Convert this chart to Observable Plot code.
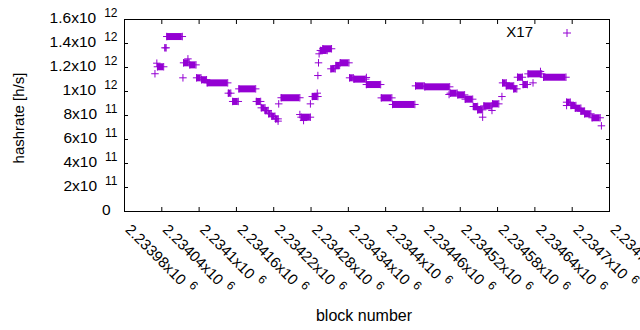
<!DOCTYPE html>
<html><head><meta charset="utf-8">
<script src="https://cdn.jsdelivr.net/npm/d3@7"></script>
<script src="https://cdn.jsdelivr.net/npm/@observablehq/plot@0.6"></script>
<style>
html,body{margin:0;padding:0;background:#fff;}
svg{font-family:"Liberation Sans",Arial,sans-serif;}
</style></head><body><div id="chart"></div>
<script>
const seriesName = "X17";
const xLabel = "block number";
const yLabel = "hashrate [h/s]";

// runs of consecutive blocks with the same hashrate
const runStart = [2234033,2234045,2234048,2234075,2234085,2234096,2234104,2234113,2234147,2234154,2234164,2234192,2234200,2234206,2234212,2234217,2234223,2234232,2234264,2234282,2234295,2234299,2234312,2234320,2234327,2234342,2234349,2234369,2234393,2234411,2234448,2234463,2234504,2234516,2234528,2234541,2234548,2234558,2234572,2234588,2234594,2234606,2234612,2234621,2234629,2234654,2234691,2234698,2234705,2234714,2234720,2234732];
const runEnd   = [2234043,2234047,2234073,2234084,2234095,2234103,2234112,2234146,2234151,2234163,2234191,2234199,2234206,2234211,2234216,2234222,2234227,2234262,2234279,2234291,2234306,2234313,2234319,2234326,2234341,2234348,2234368,2234392,2234410,2234447,2234462,2234503,2234515,2234527,2234540,2234548,2234556,2234570,2234582,2234594,2234606,2234611,2234620,2234628,2234651,2234690,2234697,2234706,2234714,2234720,2234730,2234745];
const runValue = [1.206e12,1.364e12,1.458e12,1.239e12,1.222e12,1.114e12,1.098e12,1.072e12,0.986e12,0.917e12,1.022e12,0.917e12,0.864e12,0.842e12,0.814e12,0.794e12,0.772e12,0.948e12,0.786e12,0.958e12,1.342e12,1.356e12,1.189e12,1.217e12,1.239e12,1.114e12,1.103e12,1.058e12,0.947e12,0.892e12,1.047e12,1.039e12,0.986e12,0.972e12,0.936e12,0.875e12,0.847e12,0.880e12,0.897e12,1.072e12,1.047e12,1.022e12,1.119e12,1.058e12,1.147e12,1.119e12,0.911e12,0.883e12,0.861e12,0.836e12,0.814e12,0.781e12];

// isolated blocks
const pointBlock = [2234029,2234032,2234074,2234082,2234227,2234228,2234262,2234268,2234279,2234290,2234291,2234292,2234293,2234369,2234502,2234556,2234571,2234587,2234637,2234649,2234691,2234747];
const pointValue = [1.148e12,1.236e12,1.114e12,1.272e12,0.753e12,0.897e12,0.808e12,0.758e12,0.897e12,0.986e12,1.133e12,1.239e12,1.314e12,1.117e12,0.975e12,0.786e12,0.842e12,0.958e12,1.072e12,1.167e12,0.883e12,0.714e12];

const xTicks = [2233980,2234040,2234100,2234160,2234220,2234280,2234340,2234400,2234460,2234520,2234580,2234640,2234700,2234760];
const xTickLabels = ["2.23398x10^6","2.23404x10^6","2.2341x10^6","2.23416x10^6","2.23422x10^6","2.23428x10^6","2.23434x10^6","2.2344x10^6","2.23446x10^6","2.23452x10^6","2.23458x10^6","2.23464x10^6","2.2347x10^6","2.23476x10^6"];
const yTicks = [0,2e11,4e11,6e11,8e11,1e12,1.2e12,1.4e12,1.6e12];
const yTickLabels = ["0","2x10^11","4x10^11","6x10^11","8x10^11","1x10^12","1.2x10^12","1.4x10^12","1.6x10^12"];

const color = "#9400d3";
const plus = {draw(ctx, size){const r = Math.sqrt(size/Math.PI); ctx.moveTo(-r,0); ctx.lineTo(r,0); ctx.moveTo(0,-r); ctx.lineTo(0,r);}};

const runs = runStart.map((s,i)=>({s, e: runEnd[i], v: runValue[i]}));
const singles = pointBlock.map((b,i)=>({b, v: pointValue[i]}));
const xt = xTicks.map((v,i)=>({v, label: xTickLabels[i]}));
const yt = yTicks.map((v,i)=>({v, label: yTickLabels[i]}));
const dotOpts = {symbol: plus, r: 3.75, stroke: color, fill: "none", strokeWidth: 1};

const chart = Plot.plot({
  width: 640, height: 330,
  marginLeft: 124, marginRight: 31, marginTop: 19, marginBottom: 119,
  style: {background: "white", fontFamily: "Liberation Sans, Arial, sans-serif", fontSize: "15px", color: "black"},
  x: {domain: [xTicks[0], xTicks[xTicks.length-1]]},
  y: {domain: [yTicks[0], yTicks[yTicks.length-1]]},
  marks: [
    Plot.ruleY(runs, {y: "v", x1: "s", x2: "e", stroke: color, strokeWidth: 7}),
    Plot.dot(runs, {x: "s", y: "v", ...dotOpts}),
    Plot.dot(runs, {x: "e", y: "v", ...dotOpts}),
    Plot.dot(singles, {x: "b", y: "v", ...dotOpts}),
    Plot.frame({stroke: "black"}),
    Plot.axisX({anchor: "bottom", ticks: xTicks, tickSize: -4, tickFormat: () => "", label: null, stroke: "black"}),
    Plot.axisX({anchor: "top", ticks: xTicks, tickSize: -4, tickFormat: () => "", label: null, stroke: "black"}),
    Plot.axisY({anchor: "left", ticks: yTicks, tickSize: -4, tickFormat: () => "", label: null, stroke: "black"}),
    Plot.axisY({anchor: "right", ticks: yTicks, tickSize: -4, tickFormat: () => "", label: null, stroke: "black"}),
    Plot.text(yt, {y: "v", text: "label", frameAnchor: "left", dx: -14, dy: -1, textAnchor: "end", fontSize: 15.5, fill: "black"}),
    Plot.text(xt, {x: "v", text: "label", frameAnchor: "bottom", dy: 19, rotate: 45, textAnchor: "start", lineAnchor: "bottom", fontSize: 15, fill: "black"})
  ]
});
document.getElementById("chart").appendChild(chart);

const NS = "http://www.w3.org/2000/svg";
chart.querySelectorAll("text").forEach(t => {
  const s = t.textContent;
  if (s.indexOf("^") < 0) return;
  const parts = s.split("^");
  const rotated = (t.getAttribute("transform") || "").indexOf("rotate") >= 0;
  while (t.firstChild) t.removeChild(t.firstChild);
  t.appendChild(document.createTextNode(parts[0]));
  const ts = document.createElementNS(NS, "tspan");
  ts.setAttribute("dx", rotated ? "6" : "8"); ts.setAttribute("dy", "-6"); ts.setAttribute("font-size", "12");
  ts.textContent = parts[1];
  t.appendChild(ts);
  if (!rotated) t.setAttribute("dx", "7");
});

const svg = d3.select(chart);
svg.append("text").attr("x", 364).attr("y", 321).attr("text-anchor", "middle").attr("font-size", 16).attr("fill", "black").text(xLabel);
svg.append("text").attr("transform", "translate(24,118) rotate(-90)").attr("text-anchor", "middle").attr("font-size", 15).attr("fill", "black").text(yLabel);
svg.append("text").attr("x", 533).attr("y", 37).attr("text-anchor", "end").attr("font-size", 15).attr("fill", "black").text(seriesName);
svg.append("path").attr("d", "M563,33h8M567,29v8").attr("stroke", color).attr("fill", "none");
</script></body></html>
